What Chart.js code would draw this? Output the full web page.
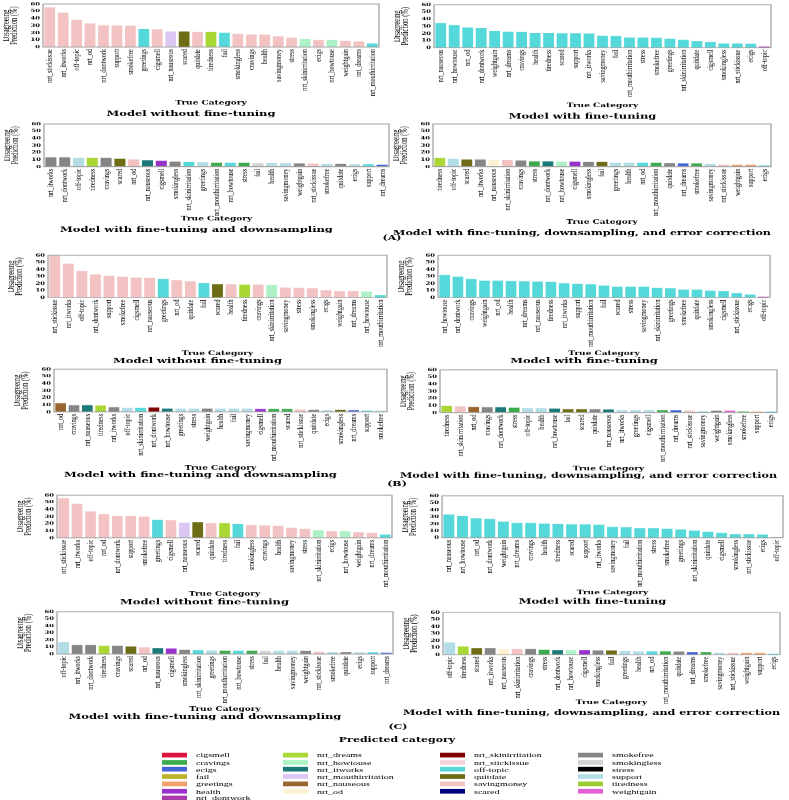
<!DOCTYPE html>
<html><head><meta charset="utf-8">
<script src="https://cdn.jsdelivr.net/npm/chart.js@4.4.1/dist/chart.umd.min.js"></script>
<style>
html,body{margin:0;padding:0;background:#fff;width:789px;height:800px;overflow:hidden}
#wrap{position:absolute;left:0;top:0;width:789px;height:1200px;transform-origin:0 0}
#wrap canvas{position:absolute}
.sec{position:absolute;font:bold 11px "DejaVu Serif";white-space:nowrap;transform:translate(-50%,-50%);color:#000}
.lgh{position:absolute;font:bold 11px "DejaVu Serif";white-space:nowrap;transform:translate(-50%,-50%);color:#000}
.lgi{position:absolute;font:10px "Liberation Serif";white-space:nowrap;color:#000;transform:translateY(-50%);display:flex;align-items:center}
.sw{display:inline-block;width:25px;height:7px;margin-right:9px}
</style></head><body><div id="wrap"></div>
<script>
// ---------- data ----------
const legendCategories = ["cigsmell","cravings","ecigs","fail","greetings","health","nrt_dontwork",
 "nrt_dreams","nrt_howtouse","nrt_itworks","nrt_mouthirritation","nrt_nauseous","nrt_od",
 "nrt_skinirritation","nrt_stickissue","off-topic","quitdate","savingmoney","scared",
 "smokefree","smokingless","stress","support","tiredness","weightgain"];

const titleNoFT = "Model without fine-tuning";
const titleFT = "Model with fine-tuning";
const titleDS = "Model with fine-tuning and downsampling";
const titleEC = "Model with fine-tuning, downsampling, and error correction";
const xAxisLabel = "True Category";
const yAxisLabel = ["Disagreeing","Prediction (%)"];
const sectionLabels = ["(A)","(B)","(C)"];
const legendTitle = "Predicted category";

// (A) no fine-tuning
const catsA1 = ["nrt_stickissue","nrt_itworks","off-topic","nrt_od","nrt_dontwork","support","smokefree","greetings","cigsmell","nrt_nauseous","scared","quitdate","tiredness","fail","smokingless","cravings","health","savingmoney","stress","nrt_skinirritation","ecigs","nrt_howtouse","weightgain","nrt_dreams","nrt_mouthirritation"];
const valsA1 = [55.4,48,37.8,33,30.5,30.3,29.5,25.4,25,21.7,21.7,21,21,20,18.5,17.5,17.5,14.8,13,11.5,9.7,9.7,8.8,7.8,5];
const predA1 = ["savingmoney","savingmoney","savingmoney","savingmoney","savingmoney","savingmoney","savingmoney","off-topic","savingmoney","nrt_mouthirritation","quitdate","savingmoney","nrt_dreams","off-topic","savingmoney","savingmoney","savingmoney","savingmoney","savingmoney","nrt_howtouse","savingmoney","nrt_howtouse","savingmoney","savingmoney","off-topic"];

// (A) fine-tuning
const catsA2 = ["nrt_nauseous","nrt_howtouse","nrt_od","nrt_dontwork","weightgain","nrt_dreams","cravings","health","tiredness","scared","support","nrt_itworks","savingmoney","fail","nrt_mouthirritation","stress","smokefree","greetings","nrt_skinirritation","quitdate","cigsmell","smokingless","nrt_stickissue","ecigs","off-topic"];
const valsA2 = [34.6,31.8,28.2,27.2,23.5,22.2,22,20.8,20.8,20.3,20.3,19.8,16.6,16.2,14.3,14.3,13.8,12.5,11,9.2,7.8,6,6,5.5,1.5];
const predA2 = ["off-topic","off-topic","off-topic","off-topic","off-topic","off-topic","off-topic","off-topic","off-topic","off-topic","off-topic","off-topic","off-topic","off-topic","off-topic","off-topic","off-topic","off-topic","off-topic","off-topic","off-topic","off-topic","off-topic","off-topic","nrt_dontwork"];

// (A) fine-tuning + downsampling
const catsA3 = ["nrt_itworks","nrt_dontwork","off-topic","tiredness","cravings","scared","nrt_od","nrt_nauseous","cigsmell","smokingless","nrt_skinirritation","greetings","nrt_mouthirritation","nrt_howtouse","stress","fail","health","savingmoney","weightgain","nrt_stickissue","smokefree","quitdate","ecigs","support","nrt_dreams"];
const valsA3 = [13.1,13.1,12.2,12.2,12.2,11.3,10.3,8.9,8.4,7,6.6,6.1,5.6,5.6,5.6,5.2,5.2,5.2,4.7,4.2,3.8,3.8,3.3,3.3,2.8];
const predA3 = ["smokefree","smokefree","support","nrt_dreams","smokefree","quitdate","savingmoney","nrt_itworks","health","smokefree","off-topic","support","cravings","off-topic","cravings","smokingless","support","support","smokefree","savingmoney","support","smokefree","support","off-topic","ecigs"];

// (A) fine-tuning + downsampling + error correction
const catsA4 = ["tiredness","off-topic","scared","nrt_itworks","nrt_nauseous","nrt_skinirritation","cravings","stress","nrt_dontwork","nrt_howtouse","cigsmell","smokingless","fail","greetings","health","nrt_od","nrt_mouthirritation","quitdate","nrt_dreams","smokefree","savingmoney","nrt_stickissue","weightgain","support","ecigs"];
const valsA4 = [12.2,11.3,10.1,10.1,9.1,9.1,8.7,7.5,7.5,7,7,6.6,6.6,5.6,5.6,5.6,5.6,5.2,4.7,4.7,3.8,2.8,2.8,2.8,1.9];
const predA4 = ["nrt_dreams","support","quitdate","smokefree","nrt_od","savingmoney","smokefree","cravings","nrt_itworks","nrt_howtouse","health","smokefree","quitdate","support","support","off-topic","cravings","smokefree","ecigs","cravings","support","savingmoney","greetings","greetings","off-topic"];

// (B) no fine-tuning
const catsB1 = ["nrt_stickissue","nrt_itworks","off-topic","nrt_dontwork","support","smokefree","cigsmell","nrt_nauseous","greetings","nrt_od","quitdate","fail","scared","health","tiredness","cravings","nrt_skinirritation","savingmoney","stress","smokingless","ecigs","weightgain","nrt_dreams","nrt_howtouse","nrt_mouthirritation"];
const valsB1 = [60,48.2,37.8,33,30.7,29.8,28.3,27.9,26.5,24.6,23.1,20.8,18.9,18.9,18.4,18.4,17.9,14.2,13.7,13.2,10.4,9.4,9.4,8.5,3.8];
const predB1 = ["savingmoney","savingmoney","savingmoney","savingmoney","savingmoney","savingmoney","savingmoney","savingmoney","off-topic","savingmoney","savingmoney","off-topic","quitdate","savingmoney","nrt_dreams","savingmoney","nrt_howtouse","savingmoney","savingmoney","savingmoney","savingmoney","savingmoney","savingmoney","nrt_howtouse","off-topic"];

// (B) fine-tuning
const catsB2 = ["nrt_howtouse","nrt_dontwork","cravings","weightgain","nrt_od","health","nrt_dreams","nrt_nauseous","tiredness","nrt_itworks","support","nrt_mouthirritation","fail","scared","stress","savingmoney","nrt_skinirritation","greetings","smokefree","quitdate","smokingless","cigsmell","nrt_stickissue","ecigs","off-topic"];
const valsB2 = [32.1,29.8,26.5,24.1,24.1,23.6,23.1,22.7,22.2,20.3,19.4,18.9,17,15.6,15.6,15.6,13.7,13.2,11.3,11.3,9.9,9.4,6.6,4.3,1.4];
const predB2 = ["off-topic","off-topic","off-topic","off-topic","off-topic","off-topic","off-topic","off-topic","off-topic","off-topic","off-topic","off-topic","off-topic","off-topic","off-topic","off-topic","off-topic","off-topic","off-topic","off-topic","off-topic","off-topic","off-topic","off-topic","nrt_dontwork"];

// (B) fine-tuning + downsampling
const catsB3 = ["nrt_od","cravings","nrt_nauseous","tiredness","nrt_itworks","off-topic","nrt_skinirritation","nrt_dontwork","nrt_howtouse","greetings","stress","weightgain","health","fail","savingmoney","cigsmell","nrt_mouthirritation","scared","nrt_stickissue","quitdate","ecigs","smokingless","nrt_dreams","support","smokefree"];
const valsB3 = [12.2,9.4,9.4,8.9,6.6,5.6,5.6,6.1,4.7,4.7,4.7,4.7,4.7,4.7,4.7,4.2,4.2,4.2,3.3,2.8,2.3,2.8,2.3,1.9,1.9];
const predB3 = ["nrt_nauseous","smokefree","nrt_itworks","nrt_dreams","smokefree","support","off-topic","nrt_skinirritation","nrt_itworks","support","support","smokefree","support","support","support","health","cravings","cravings","savingmoney","smokefree","support","quitdate","ecigs","off-topic","support"];

// (B) fine-tuning + downsampling + error correction
const catsB4 = ["tiredness","nrt_skinirritation","nrt_od","cravings","nrt_dontwork","stress","off-topic","health","nrt_howtouse","fail","scared","quitdate","nrt_nauseous","nrt_itworks","greetings","cigsmell","nrt_mouthirritation","nrt_dreams","nrt_stickissue","savingmoney","weightgain","smokingless","smokefree","support","ecigs"];
const valsB4 = [9.5,8.6,8.1,7.6,7.6,6.7,6.2,6.2,5.7,4.8,4.8,4.8,4.3,3.3,3.3,3.3,3.3,3.3,2.9,2.4,2.9,2.9,1.4,1.4,1.4];
const predB4 = ["nrt_dreams","savingmoney","nrt_nauseous","smokefree","nrt_itworks","cravings","support","support","nrt_itworks","quitdate","quitdate","smokefree","nrt_itworks","support","support","support","cravings","ecigs","savingmoney","support","smokefree","weightgain","cravings","greetings","off-topic"];

// (C) no fine-tuning
const catsC1 = ["nrt_stickissue","nrt_itworks","off-topic","nrt_od","nrt_dontwork","support","smokefree","greetings","cigsmell","nrt_nauseous","scared","quitdate","tiredness","fail","smokingless","cravings","health","savingmoney","stress","nrt_skinirritation","ecigs","nrt_howtouse","weightgain","nrt_dreams","nrt_mouthirritation"];
const valsC1 = [55.7,48.1,37.2,33.5,30.7,30.7,29.8,25.5,25,21.3,22,20.8,20.8,19.4,17.9,17.5,17,14.2,12.8,10.9,9.5,9.5,8,7.1,4.7];
const predC1 = ["savingmoney","savingmoney","savingmoney","savingmoney","savingmoney","savingmoney","savingmoney","off-topic","savingmoney","nrt_mouthirritation","quitdate","savingmoney","nrt_dreams","off-topic","savingmoney","savingmoney","savingmoney","savingmoney","savingmoney","nrt_howtouse","savingmoney","nrt_howtouse","savingmoney","savingmoney","off-topic"];

// (C) fine-tuning
const catsC2 = ["nrt_nauseous","nrt_howtouse","nrt_od","nrt_dontwork","weightgain","nrt_dreams","cravings","health","tiredness","scared","support","nrt_itworks","savingmoney","fail","nrt_mouthirritation","stress","smokefree","greetings","nrt_skinirritation","quitdate","cigsmell","smokingless","nrt_stickissue","ecigs","off-topic"];
const valsC2 = [33.5,31.2,27.9,26.9,23.1,21.3,21.3,20.3,19.8,19.4,19.4,18.9,15.6,15.1,13.7,13.7,13.2,11.8,10.4,8.5,7.1,5.2,5.2,4.7,1];
const predC2 = ["off-topic","off-topic","off-topic","off-topic","off-topic","off-topic","off-topic","off-topic","off-topic","off-topic","off-topic","off-topic","off-topic","off-topic","off-topic","off-topic","off-topic","off-topic","off-topic","off-topic","off-topic","off-topic","off-topic","off-topic","nrt_dontwork"];

// (C) fine-tuning + downsampling
const catsC3 = ["off-topic","nrt_itworks","nrt_dontwork","tiredness","cravings","scared","nrt_od","nrt_nauseous","cigsmell","smokingless","nrt_skinirritation","greetings","nrt_mouthirritation","nrt_howtouse","stress","fail","health","savingmoney","weightgain","nrt_stickissue","smokefree","quitdate","ecigs","support","nrt_dreams"];
const valsC3 = [17,12.8,12.8,11.8,11.8,10.9,9.4,8.5,8,6.1,5.7,5.2,4.7,4.7,4.7,4.3,4.3,4.3,4.3,3.3,2.8,2.8,2.4,2.4,1.9];
const predC3 = ["support","smokefree","smokefree","nrt_dreams","smokefree","quitdate","savingmoney","nrt_itworks","health","smokefree","off-topic","support","cravings","off-topic","cravings","smokingless","support","support","smokefree","savingmoney","support","smokefree","support","off-topic","ecigs"];

// (C) fine-tuning + downsampling + error correction
const catsC4 = ["off-topic","tiredness","scared","nrt_itworks","nrt_nauseous","nrt_skinirritation","cravings","stress","nrt_dontwork","nrt_howtouse","cigsmell","smokingless","fail","greetings","health","nrt_od","nrt_mouthirritation","quitdate","nrt_dreams","smokefree","savingmoney","nrt_stickissue","weightgain","support","ecigs"];
const valsC4 = [17.5,11.8,9.4,9.4,8,8,8,7.1,6.6,6.6,6.6,6.1,6.1,5.2,4.7,4.7,4.7,4.3,3.8,3.8,2.8,2.4,2.4,2.4,1.4];
const predC4 = ["support","nrt_dreams","quitdate","smokefree","nrt_od","savingmoney","smokefree","cravings","nrt_itworks","nrt_howtouse","health","smokefree","quitdate","support","support","off-topic","cravings","smokefree","ecigs","cravings","support","savingmoney","greetings","greetings","off-topic"];

// ---------- styles ----------
const categoryColors = {
 "cigsmell":"#dc143c","cravings":"#3cab4e","ecigs":"#4363d8","fail":"#bdb22a","greetings":"#f0a06a",
 "health":"#9932cc","nrt_dontwork":"#a83aab","nrt_dreams":"#a9d734","nrt_howtouse":"#adf2c6",
 "nrt_itworks":"#1b7a78","nrt_mouthirritation":"#dcc6f2","nrt_nauseous":"#9a6430","nrt_od":"#fcf2d2",
 "nrt_skinirritation":"#800000","nrt_stickissue":"#f7d2d8","off-topic":"#55d8da","quitdate":"#6e6c14",
 "savingmoney":"#f3c3c3","scared":"#000080","smokefree":"#858585","smokingless":"#d3d3d3","stress":"#000000",
 "support":"#b2dce6","tiredness":"#9acd32","weightgain":"#e25fd4"
};
const SQ = 0.67; // the figure is vertically squeezed
const wrap = document.getElementById('wrap');
wrap.style.transform = 'scaleY(' + SQ + ')';

// layout boxes (final pixels): frame left, right, top, bottom, x-title centre y, title centre y
const panels = [
 {c:catsA1,v:valsA1,p:predA1,t:titleNoFT,box:[43,379,4,47,103,114]},
 {c:catsA2,v:valsA2,p:predA2,t:titleFT,box:[434,771,5,48,106,117]},
 {c:catsA3,v:valsA3,p:predA3,t:titleDS,box:[44,389,124,166.7,219,230]},
 {c:catsA4,v:valsA4,p:predA4,t:titleEC,box:[433,771,124,166.7,222,233]},
 {c:catsB1,v:valsB1,p:predB1,t:titleNoFT,box:[48,387,255,297.3,353,361]},
 {c:catsB2,v:valsB2,p:predB2,t:titleFT,box:[438,770,255,297.3,353,361]},
 {c:catsB3,v:valsB3,p:predB3,t:titleDS,box:[54,387,369,411.7,468,475]},
 {c:catsB4,v:valsB4,p:predB4,t:titleEC,box:[440,777,370,412.7,469,476]},
 {c:catsC1,v:valsC1,p:predC1,t:titleNoFT,box:[57,392,495,537.7,594,602]},
 {c:catsC2,v:valsC2,p:predC2,t:titleFT,box:[442,783,496,538,593,602]},
 {c:catsC3,v:valsC3,p:predC3,t:titleDS,box:[57,393,611.7,654,709,717]},
 {c:catsC4,v:valsC4,p:predC4,t:titleEC,box:[443,780,612.7,655,703,713]}
];

const framePlugin = {id:'frame', afterDatasetsDraw(chart){
  const {ctx, chartArea:a} = chart;
  ctx.save(); ctx.strokeStyle = '#9c9c9c'; ctx.lineWidth = 1.2;
  ctx.strokeRect(a.left, a.top, a.right - a.left, a.bottom - a.top);
  ctx.restore();
}};

function makeChart(pn){
  const [L,R,T,B,tc,ti] = pn.box;
  const yw = 40, padR = 40, padT = 3;
  const lhTC = 9, lhTitle = 11.5;
  const T2 = T/SQ, B2 = B/SQ, tc2 = tc/SQ, ti2 = ti/SQ;
  const xh = tc2 + lhTC/2 - B2;
  const boxTop = tc2 + lhTC/2;
  const pt = Math.max(0, ti2 - lhTitle/2 - boxTop);
  const rest = padT + (B2 - T2) + xh + pt + lhTitle;
  const H = Math.ceil(rest + 2);
  const padB = H - rest;
  const W = Math.round((R - L) + yw + padR);
  const cv = document.createElement('canvas');
  cv.width = W; cv.height = H;
  cv.style.width = W + 'px'; cv.style.height = H + 'px';
  cv.style.left = (L - yw) + 'px'; cv.style.top = (T2 - padT) + 'px';
  wrap.appendChild(cv);
  new Chart(cv, {
    type:'bar',
    data:{labels:pn.c, datasets:[{data:pn.v, backgroundColor:pn.p.map(k => categoryColors[k]), borderWidth:0, barPercentage:1, categoryPercentage:0.8}]},
    options:{
      responsive:false, animation:false, devicePixelRatio:1,
      layout:{padding:{left:0,right:padR,top:padT,bottom:padB}},
      plugins:{legend:{display:false}, tooltip:{enabled:false},
        title:{display:true, position:'bottom', text:pn.t, color:'#000', font:{family:'DejaVu Serif', weight:'bold', size:lhTitle, lineHeight:1}, padding:{top:pt,bottom:0}}},
      scales:{
        x:{type:'category', offset:true, grid:{display:false, drawTicks:false}, border:{display:false},
           ticks:{autoSkip:false, minRotation:90, maxRotation:90, padding:3, color:'#000', font:{family:'Liberation Serif', size:9.2, lineHeight:1}},
           title:{display:true, text:xAxisLabel, color:'#000', font:{family:'DejaVu Serif', weight:'bold', size:lhTC, lineHeight:1}, padding:0},
           afterFit(s){ s.height = xh; s.paddingLeft = 0; s.paddingRight = 0; }},
        y:{min:0, max:60, grid:{display:false, drawTicks:false}, border:{display:false},
           ticks:{stepSize:10, padding:3, color:'#000', font:{family:'DejaVu Serif', weight:'bold', size:6.8, lineHeight:1}},
           title:{display:true, text:yAxisLabel, color:'#000', font:{family:'Liberation Serif', size:9.8, lineHeight:0.78}, padding:0},
           afterFit(s){ s.width = yw; s.paddingTop = 0; s.paddingBottom = 0; }}
      }
    },
    plugins:[framePlugin]
  });
}
panels.forEach(makeChart);

// section labels
const secPos = [[392,238],[397,484],[398,727]];
sectionLabels.forEach((s,i) => {
  const d = document.createElement('div'); d.className = 'sec'; d.textContent = s;
  d.style.left = secPos[i][0] + 'px'; d.style.top = (secPos[i][1]/SQ) + 'px'; wrap.appendChild(d);
});

// legend
const lh = document.createElement('div'); lh.className = 'lgh'; lh.textContent = legendTitle;
lh.style.left = '397px'; lh.style.top = (740/SQ) + 'px'; wrap.appendChild(lh);
const colX = [162, 283, 440, 578];
const rowsPerCol = [7,6,6,6];
let idx = 0;
rowsPerCol.forEach((n, ci) => {
  for (let r = 0; r < n; r++) {
    const name = legendCategories[idx++];
    const d = document.createElement('div'); d.className = 'lgi';
    const sw = document.createElement('span'); sw.className = 'sw'; sw.style.background = categoryColors[name];
    d.appendChild(sw); d.appendChild(document.createTextNode(name));
    d.style.left = colX[ci] + 'px'; d.style.top = ((755 + r*7.2)/SQ) + 'px';
    wrap.appendChild(d);
  }
});
</script></body></html>
